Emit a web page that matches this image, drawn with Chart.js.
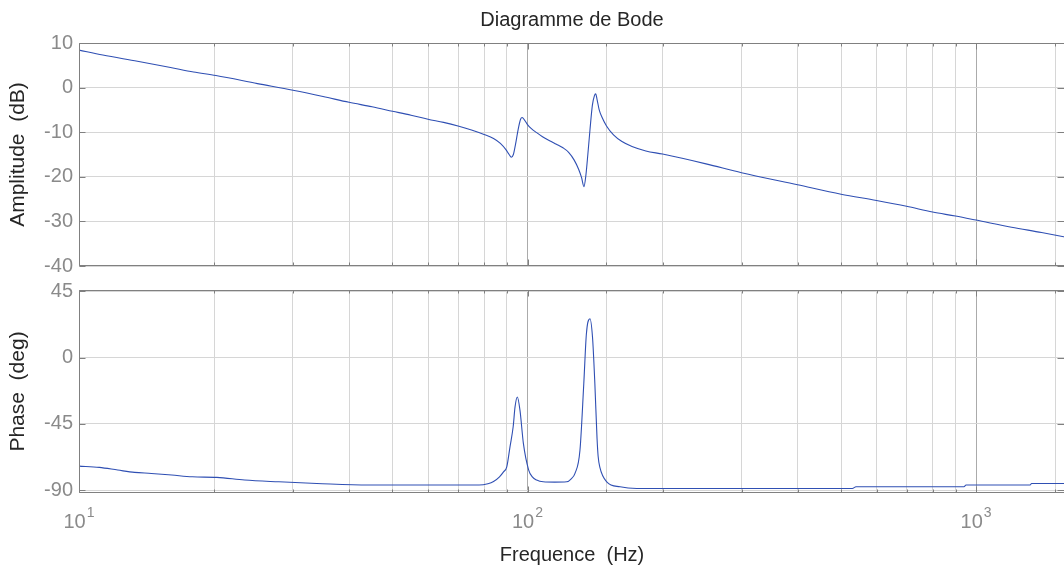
<!DOCTYPE html>
<html><head><meta charset="utf-8">
<script src="https://cdn.jsdelivr.net/npm/chart.js@4.4.1/dist/chart.umd.min.js"></script>
<style>
html,body{margin:0;padding:0;background:#fff;overflow:hidden;width:1064px;height:568px;}
#wrap{position:relative;width:1064px;height:568px;overflow:hidden;background:#fff;}
canvas{position:absolute;left:0;}
#c1{top:0;}
#c2{top:272px;}
</style></head><body>
<div id="wrap"><canvas id="c1" width="1068" height="284"></canvas><canvas id="c2" width="1068" height="296"></canvas></div>
<script>
// ---- data ----
const chartTitle = 'Diagramme de Bode';
const ampTitle = 'Amplitude  (dB)';
const phaseTitle = 'Phase  (deg)';
const freqTitle = 'Frequence  (Hz)';

const ampFreq = [10, 11.3, 13.5, 16, 18, 20.2, 25, 30, 35, 40, 45, 50, 55, 60, 65, 70, 75, 80, 84, 87, 89.5, 91, 92, 93, 94, 95.3, 96.5, 97.3, 98.5, 100, 102, 104.8, 108, 112, 116, 120, 123.5, 127, 130, 132, 133.6, 135, 136.3, 137.8, 139.5, 141, 141.9, 143, 144.5, 146.5, 150, 155.5, 162.4, 171, 183.6, 200, 250, 300, 400, 500, 600, 700, 800, 900, 1000, 1200, 1400, 1579];
const ampDb = [8.4, 7.3, 5.9, 4.5, 3.5, 2.7, 0.9, -0.6, -2.0, -3.3, -4.3, -5.3, -6.2, -7.1, -7.8, -8.6, -9.5, -10.5, -11.4, -12.5, -13.9, -15.0, -15.6, -15.0, -12.8, -9.4, -7.1, -6.7, -7.3, -8.3, -9.2, -10.1, -11.0, -11.9, -12.7, -13.5, -14.5, -16.2, -18.3, -20.2, -22.2, -19.5, -15.0, -9.5, -4.0, -1.8, -1.4, -2.8, -5.0, -6.6, -8.6, -10.6, -12.1, -13.2, -14.2, -14.9, -17.1, -19.1, -21.8, -23.9, -25.3, -26.6, -27.9, -28.8, -29.7, -31.3, -32.5, -33.5];

const phaseFreq = [10, 11.1, 12.2, 13.3, 14.5, 16.1, 17.9, 20.3, 23.4, 27.9, 33.9, 44.2, 60, 78, 81.6, 84, 86.6, 88.5, 89.9, 91.4, 92.9, 93.8, 94.9, 96.2, 97.9, 100.6, 102.5, 104.8, 108.4, 115, 122.3, 125, 127.6, 130.9, 133.5, 135.3, 137.8, 139.6, 141.3, 142.9, 143.7, 144.9, 150.2, 160.8, 175.2, 300, 530, 540, 940, 950, 1320, 1330, 1579];
const phaseDeg = [-73.7, -74.6, -76.4, -78.0, -78.7, -79.8, -81.0, -81.4, -83.2, -84.4, -85.5, -86.6, -86.6, -86.6, -85.7, -84.2, -81.0, -77.5, -74.2, -60.6, -47.0, -33.5, -26.7, -35.7, -58.3, -76.4, -81.0, -83.2, -84.4, -84.6, -84.4, -82.5, -78.7, -62.9, -17.6, 16.3, 26.5, 14.0, -17.6, -55.0, -67.0, -74.2, -84.4, -87.8, -88.9, -88.9, -88.9, -87.8, -87.8, -86.6, -86.6, -85.5, -85.5];

const ampTicks = [10, 0, -10, -20, -30, -40];
const phaseTicks = [45, 0, -45, -90];
const decadeTicks = [10, 100, 1000];
const decadeExps = ['1', '2', '3'];
const freqMin = 10, freqMax = 1579;
const ampMin = -40, ampMax = 10;
const phaseMin = -92, phaseMax = 46;

// ---- styling ----
const FONT = "'Liberation Sans', Arial, Helvetica, sans-serif";
const LINE = '#2f4fb3';
const TICKC = '#8a8a8a';
const TEXTC = '#262626';
const GRID_MINOR = '#d6d6d6';
const GRID_MAJOR = '#ababab';
const BOX = '#808080';

const frame = {
  id: 'frame',
  afterDatasetsDraw(chart) {
    const {ctx, chartArea: a, scales: {x, y}} = chart;
    ctx.save();
    ctx.strokeStyle = BOX; ctx.lineWidth = 1;
    const L = Math.round(a.left) + 0.5, R = Math.round(a.right) - 0.5;
    const T = Math.round(a.top) + 0.5, B = Math.round(a.bottom) - 0.5;
    ctx.beginPath(); ctx.rect(L, T, R - L, B - T); ctx.stroke();
    ctx.beginPath();
    x.ticks.forEach(t => {
      const p = Math.round(x.getPixelForValue(t.value)) + 0.5;
      const len = decadeTicks.includes(t.value) ? 6 : 3;
      ctx.moveTo(p, T); ctx.lineTo(p, T + len);
      ctx.moveTo(p, B); ctx.lineTo(p, B - len);
    });
    y.ticks.forEach(t => {
      const p = Math.round(y.getPixelForValue(t.value)) + 0.5;
      ctx.moveTo(L, p); ctx.lineTo(L + 6, p);
      ctx.moveTo(R, p); ctx.lineTo(R - 7, p);
    });
    ctx.stroke();
    ctx.restore();
  }
};

const expLabels = {
  id: 'expLabels',
  afterDraw(chart) {
    const {ctx, chartArea: a, scales: {x}} = chart;
    ctx.save();
    ctx.fillStyle = TICKC;
    ctx.textBaseline = 'alphabetic';
    ctx.textAlign = 'left';
    decadeTicks.forEach((v, i) => {
      const px = x.getPixelForValue(v);
      ctx.font = '20px ' + FONT;
      const w1 = ctx.measureText('10').width;
      ctx.font = '14px ' + FONT;
      const w2 = ctx.measureText(decadeExps[i]).width;
      const start = px - (w1 + w2 + 1) / 2;
      ctx.font = '20px ' + FONT;
      ctx.fillText('10', start, a.bottom + 35);
      ctx.font = '14px ' + FONT;
      ctx.fillText(decadeExps[i], start + w1 + 1, a.bottom + 24);
    });
    ctx.restore();
  }
};

function xScale(bottom) {
  return {
    type: 'logarithmic', min: freqMin, max: freqMax,
    grid: { drawTicks: false, color: c => (c.tick && decadeTicks.includes(c.tick.value)) ? GRID_MAJOR : GRID_MINOR, lineWidth: 1 },
    border: { display: false },
    ticks: { display: false, autoSkip: false, maxRotation: 0 },
    title: bottom ? { display: true, text: freqTitle, color: TEXTC, font: { family: FONT, size: 20 }, padding: { top: 0, bottom: 1 } } : { display: false },
    afterFit: s => { s.height = bottom ? 75 : 14; }
  };
}
function yScale(min, max, tickVals, title) {
  return {
    type: 'linear', min, max,
    afterBuildTicks: s => { s.ticks = tickVals.map(v => ({ value: v })); },
    grid: { drawTicks: false, color: GRID_MINOR, lineWidth: 1 },
    border: { display: false },
    ticks: { color: TICKC, font: { family: FONT, size: 20 }, padding: 6 },
    title: { display: true, text: title, color: TEXTC, font: { family: FONT, size: 21 }, padding: { top: 6, bottom: 0 } },
    afterFit: s => { s.width = 79; }
  };
}

const lineStyle = { borderColor: LINE, borderWidth: 1.1, pointRadius: 0, cubicInterpolationMode: 'monotone', fill: false };

new Chart(document.getElementById('c1'), {
  type: 'line',
  data: { datasets: [Object.assign({ data: ampFreq.map((f, i) => ({ x: f, y: ampDb[i] })) }, lineStyle)] },
  options: {
    responsive: false, animation: false, devicePixelRatio: 1,
    layout: { padding: { left: 0, right: 3, top: 0, bottom: 0 } },
    plugins: { legend: { display: false }, tooltip: { enabled: false },
      title: { display: true, fullSize: false, text: chartTitle, color: TEXTC, font: { family: FONT, size: 20, weight: 'normal' }, padding: { top: 8, bottom: 11 } } },
    scales: { x: xScale(false), y: yScale(ampMin, ampMax, ampTicks, ampTitle) }
  },
  plugins: [frame]
});

new Chart(document.getElementById('c2'), {
  type: 'line',
  data: { datasets: [Object.assign({ data: phaseFreq.map((f, i) => ({ x: f, y: phaseDeg[i] })) }, lineStyle)] },
  options: {
    responsive: false, animation: false, devicePixelRatio: 1,
    layout: { padding: { left: 0, right: 3, top: 18, bottom: 0 } },
    plugins: { legend: { display: false }, tooltip: { enabled: false } },
    scales: { x: xScale(true), y: yScale(phaseMin, phaseMax, phaseTicks, phaseTitle) }
  },
  plugins: [frame, expLabels]
});
</script>
</body></html>
